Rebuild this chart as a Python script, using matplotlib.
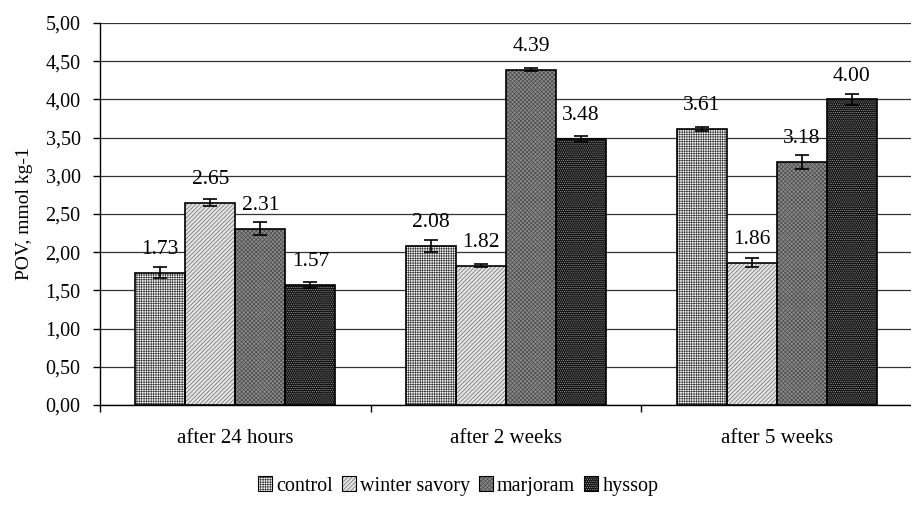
import matplotlib
matplotlib.use("Agg")
import matplotlib.pyplot as plt
import numpy as np
from matplotlib.patches import Patch
from matplotlib.legend_handler import HandlerTuple
from matplotlib.ticker import FuncFormatter

plt.rcParams['font.family'] = ['Liberation Serif', 'DejaVu Serif']
plt.rcParams['hatch.linewidth'] = 0.5

periods = ["after 24 hours", "after 2 weeks", "after 5 weeks"]
treatments = ["control", "winter savory", "marjoram", "hyssop"]
values = {
    "control":       [1.73, 2.08, 3.61],
    "winter savory": [2.65, 1.82, 1.86],
    "marjoram":      [2.31, 4.39, 3.18],
    "hyssop":        [1.57, 3.48, 4.00],
}
errors = {
    "control":       [0.07, 0.08, 0.03],
    "winter savory": [0.05, 0.02, 0.06],
    "marjoram":      [0.08, 0.02, 0.09],
    "hyssop":        [0.04, 0.04, 0.07],
}
y_ticks = [0.0, 0.5, 1.0, 1.5, 2.0, 2.5, 3.0, 3.5, 4.0, 4.5, 5.0]

# fill colour, hatch pattern, hatch colour for each treatment
styles = {
    "control":       ("white",   "+++++++", "#404040"),
    "winter savory": ("#e4e4e4", "////////", "#6a6a6a"),
    "marjoram":      ("#8c8c8c", "xxxxxxxx", "#4a4a4a"),
    "hyssop":        ("#121212", "........", "#9a9a9a"),
}

fig = plt.figure(figsize=(9.12, 5.09), dpi=100)
ax = fig.add_axes([100 / 912, 104 / 509, 812 / 912, 382 / 509])

x = np.arange(len(periods))
bw = 0.185
offsets = (np.arange(len(treatments)) - 1.5) * bw

handles = []
for i, t in enumerate(treatments):
    fc, hatch, hc = styles[t]
    xs = x + offsets[i]
    ax.bar(xs, values[t], bw, color=fc, hatch=hatch, edgecolor=hc,
           linewidth=0, zorder=2)
    ax.bar(xs, values[t], bw, facecolor="none", edgecolor="black",
           linewidth=1.2, zorder=3)
    ax.errorbar(xs, values[t], yerr=errors[t], fmt="none", ecolor="black",
                elinewidth=1.2, capsize=5, capthick=1.2, zorder=4)
    for xi, v in zip(xs, values[t]):
        ax.annotate(f"{v:.2f}", xy=(xi, v), xytext=(0, 10),
                    textcoords="offset points", ha="center", va="bottom",
                    fontsize=15.5)
    handles.append((Patch(facecolor=fc, hatch=hatch, edgecolor=hc, linewidth=0),
                    Patch(facecolor="none", edgecolor="black", linewidth=0.8)))

ax.set_xlim(-0.5, 2.5)
ax.set_ylim(0, 5)
ax.set_yticks(y_ticks)
ax.yaxis.set_major_formatter(FuncFormatter(lambda v, p: f"{v:.2f}".replace(".", ",")))
ax.set_xticks(x)
ax.set_xticklabels(periods, fontsize=15)
ax.set_xticks([-0.5, 0.5, 1.5, 2.5], minor=True)
ax.tick_params(axis="x", which="major", length=0, pad=17)
ax.tick_params(axis="x", which="minor", length=5, direction="out", width=1)
ax.tick_params(axis="y", length=5, direction="out", width=1, labelsize=14.5, pad=9)

ax.grid(axis="y", color="#333333", linewidth=0.9, zorder=0)
ax.set_axisbelow(True)
for s in ["top", "right"]:
    ax.spines[s].set_visible(False)
for s in ["left", "bottom"]:
    ax.spines[s].set_linewidth(1.0)
    ax.spines[s].set_color("black")

ax.set_ylabel("POV, mmol kg-1", fontsize=14, labelpad=9)

fig.legend(handles, treatments, handler_map={tuple: HandlerTuple(ndivide=1)},
           loc="center", bbox_to_anchor=(458 / 912, 1 - 486 / 509), ncol=4,
           frameon=False, fontsize=14.5, handlelength=0.7, handleheight=0.7,
           handletextpad=0.2, columnspacing=0.45)

fig.savefig("out.png", dpi=100)
